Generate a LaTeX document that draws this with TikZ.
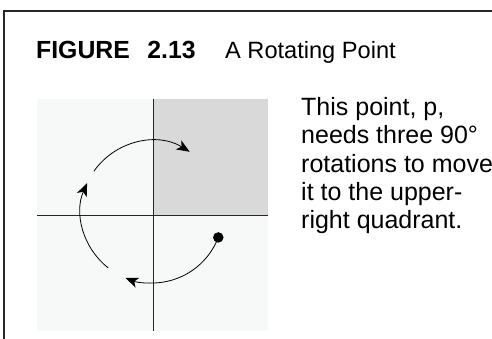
\documentclass[tikz,border=0pt]{standalone}
\usepackage{fontspec}
\setmainfont{Liberation Sans}
\usetikzlibrary{arrows.meta,calc}
\definecolor{bgpale}{HTML}{F7F9F9}
\definecolor{quadgray}{HTML}{D9D9D9}
\begin{document}
\begin{tikzpicture}[x=1pt,y=1pt,
  frame/.style={line width=1.3pt, black!85},
  axis/.style={line width=0.9pt, black!85},
  rot/.style={line width=0.8pt, -{Stealth[length=13pt,width=10.5pt,inset=3.5pt]}},
  body/.style={font=\fontsize{25}{28.4}\selectfont, align=left, inner sep=0pt, anchor=north west},
  titletext/.style={font=\fontsize{23.6}{28}\selectfont, inner sep=0pt, anchor=base west},
  dot/.style={circle, fill=black, inner sep=0pt, minimum size=10.5pt},
]
\useasboundingbox (0,0) rectangle (492,339);
\fill[white] (0,0) rectangle (492,339);
\draw[frame] (4,0) -- (4,328) -- (492,328);
% panel
\fill[bgpale] (37,8) rectangle (268,240);
\fill[quadgray] (153,124) rectangle (268,240);
\draw[axis] (153,8) -- (153,240);
\draw[axis] (37,124) -- (268,124);
% rotation circle
\coordinate (c) at (152,127);
\node[dot] (p) at ($(c)+(-21:71)$) {};
\draw[rot] (p.center) arc[start angle=-21, end angle=-112, radius=71];
\draw[rot] ($(c)+(-128:71)$) arc[start angle=-128, end angle=-204, radius=71];
\draw[rot] ($(c)+(145:71)$) arc[start angle=145, end angle=58, radius=71];
% texts
\node[titletext, font=\fontsize{24.8}{28}\selectfont\bfseries] (fig) at (36,280.7) {FIGURE\hspace{17.5pt}2.13};
\node[titletext] (cap) at (225,280.7) {A Rotating Point};
\node[body] (txt) at (301,242) {This point, p,\\needs three 90°\\rotations to move\\it to the upper-\\right quadrant.};
\end{tikzpicture}
\end{document}
